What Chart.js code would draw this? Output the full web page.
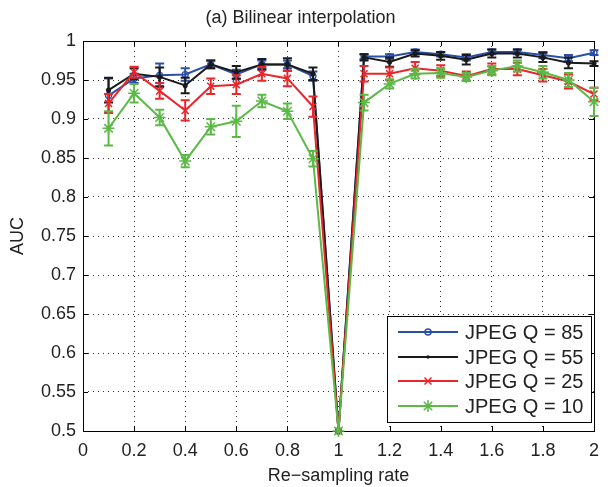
<!DOCTYPE html>
<html><head><meta charset="utf-8">
<script src="https://cdn.jsdelivr.net/npm/chart.js@4/dist/chart.umd.min.js"></script>
<style>html,body{margin:0;padding:0;background:#fff}#wrap{width:608px;height:487px}</style>
</head><body><div id="wrap"><canvas id="c" width="608" height="487"></canvas></div>
<script>
const titleText = "(a) Bilinear interpolation";
const xLabel = "Re\u2212sampling rate";
const yLabel = "AUC";
const rates = [0.1,0.2,0.3,0.4,0.5,0.6,0.7,0.8,0.9,1.0,1.1,1.2,1.3,1.4,1.5,1.6,1.7,1.8,1.9,2.0];
const seriesNames = ["JPEG Q = 85","JPEG Q = 55","JPEG Q = 25","JPEG Q = 10"];
const q85 = [0.930,0.952,0.956,0.957,0.970,0.957,0.970,0.970,0.955,0.5,0.980,0.980,0.986,0.983,0.979,0.986,0.986,0.982,0.978,0.985];
const q55 = [0.937,0.958,0.954,0.943,0.970,0.960,0.970,0.970,0.958,0.5,0.979,0.973,0.984,0.981,0.976,0.984,0.984,0.979,0.972,0.971];
const q25 = [0.920,0.960,0.936,0.911,0.942,0.944,0.958,0.952,0.916,0.5,0.958,0.958,0.965,0.962,0.955,0.964,0.964,0.956,0.948,0.932];
const q10 = [0.888,0.933,0.902,0.846,0.890,0.897,0.923,0.910,0.849,0.5,0.921,0.945,0.958,0.959,0.954,0.962,0.968,0.960,0.950,0.922];
const q85Err = [0.022,0.006,0.015,0.008,0.005,0.006,0.005,0.005,0.006,0,0.003,0.003,0.003,0.003,0.004,0.003,0.003,0.004,0.004,0.003];
const q55Err = [0.016,0.007,0.012,0.010,0.005,0.008,0.007,0.008,0.008,0,0.004,0.006,0.004,0.005,0.006,0.005,0.005,0.006,0.007,0.003];
const q25Err = [0.012,0.007,0.010,0.013,0.010,0.012,0.009,0.010,0.013,0,0.010,0.008,0.008,0.007,0.006,0.007,0.008,0.008,0.009,0.008];
const q10Err = [0.022,0.012,0.010,0.008,0.010,0.020,0.008,0.010,0.010,0,0.010,0.006,0.006,0.006,0.005,0.006,0.007,0.008,0.009,0.018];
const xTicks = [0,0.2,0.4,0.6,0.8,1,1.2,1.4,1.6,1.8,2];
const yTicks = [0.5,0.55,0.6,0.65,0.7,0.75,0.8,0.85,0.9,0.95,1];

const FONT = "'Liberation Sans', Arial, Helvetica, sans-serif";
const colors = ["#2a4fa8","#1a1a1a","#e8262b","#5cb947"];
const styles = ["circle","circle","crossRot","star"];
const radii = [3,1.8,5,6];
const values = [q85,q55,q25,q10];
const errs = [q85Err,q55Err,q25Err,q10Err];

function pts(v){ return rates.map((r,i)=>({x:r,y:v[i]})); }

const datasets = values.map((v,k)=>({
  label: seriesNames[k],
  data: pts(v),
  errors: errs[k],
  borderColor: colors[k],
  backgroundColor: k===1 ? colors[k] : 'rgba(0,0,0,0)',
  borderWidth: 2,
  pointStyle: styles[k],
  pointRadius: radii[k],
  pointBorderWidth: k===0?1.3:1.5,
  pointBackgroundColor: k===1 ? colors[k] : 'rgba(0,0,0,0)',
  pointBorderColor: colors[k],
  tension: 0,
  clip: false,
  order: 4-k
}));

function drawMarker(ctx, style, r, x, y, color, fill){
  ctx.save();
  ctx.strokeStyle = color; ctx.fillStyle = color; ctx.lineWidth = 1.5;
  ctx.beginPath();
  if(style==="circle"){ ctx.arc(x,y,r,0,Math.PI*2); if(fill) ctx.fill(); else ctx.stroke(); }
  else if(style==="crossRot"){ ctx.moveTo(x-r*0.7,y-r*0.7); ctx.lineTo(x+r*0.7,y+r*0.7); ctx.moveTo(x+r*0.7,y-r*0.7); ctx.lineTo(x-r*0.7,y+r*0.7); ctx.stroke(); }
  else if(style==="star"){ ctx.moveTo(x-r,y); ctx.lineTo(x+r,y); ctx.moveTo(x,y-r); ctx.lineTo(x,y+r);
    ctx.moveTo(x-r*0.7,y-r*0.7); ctx.lineTo(x+r*0.7,y+r*0.7); ctx.moveTo(x+r*0.7,y-r*0.7); ctx.lineTo(x-r*0.7,y+r*0.7); ctx.stroke(); }
  ctx.restore();
}

const errorBars = {
  id:'errorBars',
  afterDatasetDraw(chart, args){
    const ds = chart.data.datasets[args.index];
    const xs = chart.scales.x, ys = chart.scales.y, ctx = chart.ctx;
    ctx.save();
    ctx.strokeStyle = ds.borderColor; ctx.lineWidth = 2;
    ds.data.forEach((p,i)=>{
      const e = ds.errors[i]; if(!e) return;
      const px = xs.getPixelForValue(p.x);
      const y1 = ys.getPixelForValue(p.y+e), y2 = ys.getPixelForValue(p.y-e);
      ctx.beginPath();
      ctx.moveTo(px,y1); ctx.lineTo(px,y2);
      ctx.moveTo(px-4.5,y1); ctx.lineTo(px+4.5,y1);
      ctx.moveTo(px-4.5,y2); ctx.lineTo(px+4.5,y2);
      ctx.stroke();
    });
    ctx.restore();
  }
};

const frame = {
  id:'frame',
  beforeDatasetsDraw(chart){
    const {ctx, chartArea:a, scales:{x:xs,y:ys}} = chart;
    ctx.save();
    ctx.strokeStyle = '#000'; ctx.lineWidth = 1;
    xTicks.forEach(v=>{ const px = Math.round(xs.getPixelForValue(v))+0.5;
      ctx.beginPath(); ctx.moveTo(px,a.bottom); ctx.lineTo(px,a.bottom-5); ctx.moveTo(px,a.top); ctx.lineTo(px,a.top+5); ctx.stroke(); });
    yTicks.forEach(v=>{ const py = Math.round(ys.getPixelForValue(v))+0.5;
      ctx.beginPath(); ctx.moveTo(a.left,py); ctx.lineTo(a.left+5,py); ctx.moveTo(a.right,py); ctx.lineTo(a.right-5,py); ctx.stroke(); });
    ctx.strokeRect(Math.round(a.left)+0.5, Math.round(a.top)+0.5, Math.round(a.right-a.left), Math.round(a.bottom-a.top));
    ctx.restore();
  },
  afterDraw(chart){
    const ctx = chart.ctx;
    const bx = 387, by = 316, bw = 204, bh = 106;
    ctx.save();
    ctx.fillStyle = '#fff'; ctx.fillRect(bx,by,bw,bh);
    ctx.strokeStyle = '#000'; ctx.lineWidth = 1; ctx.strokeRect(bx+0.5,by+0.5,bw,bh);
    const rows = [332,357,381,406];
    chart.data.datasets.forEach((ds,k)=>{
      const y = rows[k];
      ctx.strokeStyle = ds.borderColor; ctx.lineWidth = 2;
      ctx.beginPath(); ctx.moveTo(398,y); ctx.lineTo(458,y); ctx.stroke();
      drawMarker(ctx, styles[k], k===1?1.8:(k===0?3:(k===2?5:6)), 428, y, ds.borderColor, k===1);
      ctx.fillStyle = '#222'; ctx.font = "20px " + FONT; ctx.textBaseline = 'middle'; ctx.textAlign='left';
      ctx.fillText(ds.label, 465, y+1);
    });
    ctx.restore();
  }
};

const gridColorX = c => (c.tick && (c.tick.value===0||c.tick.value===2)) ? 'rgba(0,0,0,0)' : '#333';
const gridColorY = c => (c.tick && (c.tick.value===0.5||c.tick.value===1)) ? 'rgba(0,0,0,0)' : '#333';

new Chart(document.getElementById('c'), {
  type:'line',
  data:{ datasets },
  plugins:[errorBars, frame],
  options:{
    responsive:false, animation:false, devicePixelRatio:1,
    layout:{ padding:{ left:0, right:7, top:0, bottom:0 } },
    plugins:{
      legend:{ display:false }, tooltip:{ enabled:false },
      title:{ display:true, text:titleText, color:'#222', font:{ family:FONT, size:18, weight:'normal' }, padding:{ top:7, bottom:12.4 } }
    },
    scales:{
      x:{ type:'linear', min:0, max:2,
        afterBuildTicks(s){ s.ticks = xTicks.map(v=>({value:v})); },
        afterFit(s){ s.height = 56; },
        border:{ display:false, dash:[1,4] },
        grid:{ color:gridColorX, lineWidth:1, drawTicks:false },
        ticks:{ color:'#222', font:{ family:FONT, size:18 }, padding:9, maxRotation:0, callback:v=>String(+(+v).toFixed(2)) },
        title:{ display:true, text:xLabel, color:'#222', font:{ family:FONT, size:18 }, padding:{ top:2, bottom:0 } }
      },
      y:{ type:'linear', min:0.5, max:1,
        afterBuildTicks(s){ s.ticks = yTicks.map(v=>({value:v})); },
        afterFit(s){ s.width = 83; },
        border:{ display:false, dash:[1,4] },
        grid:{ color:gridColorY, lineWidth:1, drawTicks:false },
        ticks:{ color:'#222', font:{ family:FONT, size:18 }, padding:7, callback:v=>String(+(+v).toFixed(2)) },
        title:{ display:true, text:yLabel, color:'#222', font:{ family:FONT, size:18 }, padding:{ top:7, bottom:0 } }
      }
    }
  }
});
</script>
</body></html>
